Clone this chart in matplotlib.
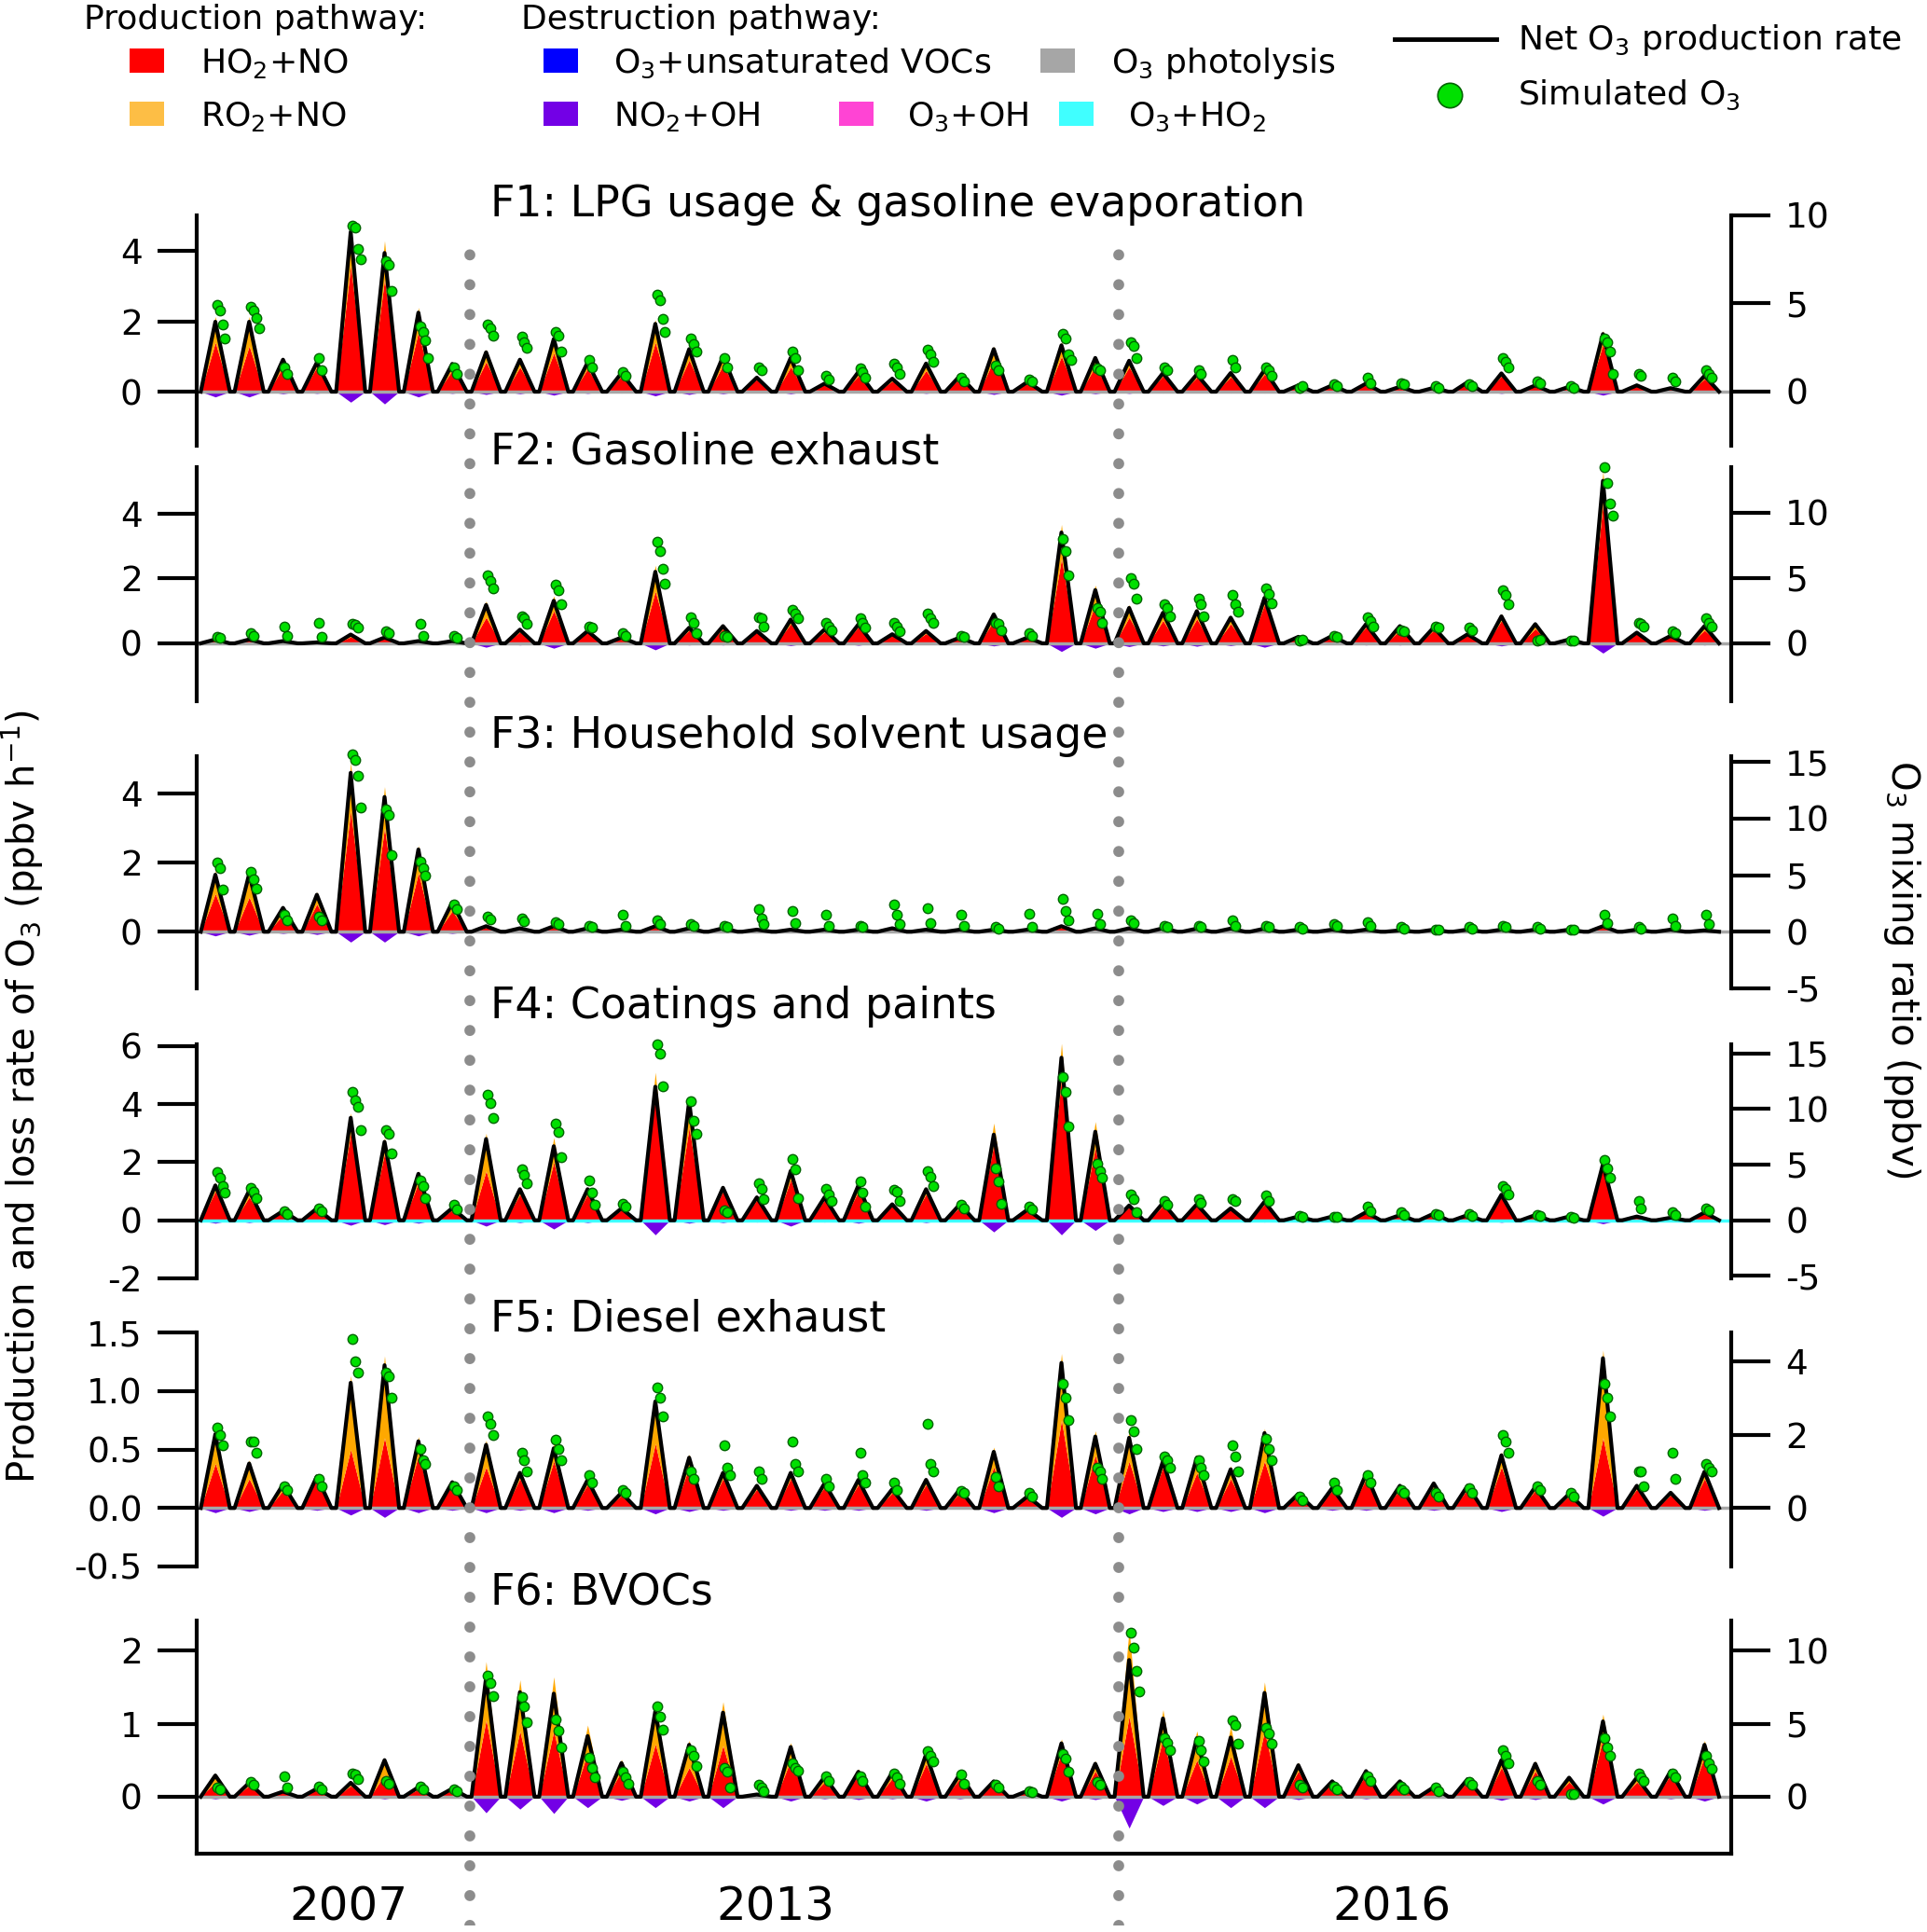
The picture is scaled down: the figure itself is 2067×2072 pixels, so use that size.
import numpy as np
import matplotlib.pyplot as plt
from matplotlib.patches import Rectangle
from matplotlib.lines import Line2D

plt.rcParams['font.family'] = 'DejaVu Sans'
plt.rcParams['mathtext.default'] = 'regular'
plt.rcParams['axes.unicode_minus'] = False

# sampled days: 0-7 -> 2007, 8-26 -> 2013, 27-44 -> 2016
days = np.arange(45)
period_breaks = [8.06, 27.23]
year_pos = [4.5, 17.1, 35.3]
year_labels = ['2007', '2013', '2016']

titles = ['F1: LPG usage & gasoline evaporation', 'F2: Gasoline exhaust',
          'F3: Household solvent usage', 'F4: Coatings and paints',
          'F5: Diesel exhaust', 'F6: BVOCs']

# daily peak rates (ppbv/h): total production, HO2+NO part, NO2+OH loss
prod_f1 = [2.14, 2.14, 0.97, 0.88, 4.85, 4.3, 2.4, 0.84, 1.2, 0.97, 1.6, 0.88, 0.57, 2.05, 1.29,
           1.06, 0.43, 1.02, 0.25, 0.6, 0.4, 0.85, 0.48, 1.29, 0.3, 1.42, 1.02, 0.93, 0.57, 0.52,
           0.57, 0.66, 0.2, 0.2, 0.25, 0.16, 0.12, 0.3, 0.57, 0.2, 0.16, 1.74, 0.2, 0.12, 0.48]
ho2_f1 = [1.4, 1.3, 0.7, 0.7, 3.6, 3.2, 1.7, 0.6, 0.85, 0.7, 1.1, 0.65, 0.45, 1.4, 0.9,
          0.75, 0.35, 0.7, 0.2, 0.45, 0.3, 0.6, 0.38, 0.9, 0.25, 1.0, 0.72, 0.7, 0.45, 0.4,
          0.42, 0.5, 0.17, 0.16, 0.2, 0.13, 0.1, 0.24, 0.45, 0.16, 0.13, 1.35, 0.16, 0.1, 0.36]
loss_f1 = [0.15, 0.15, 0.06, 0.05, 0.3, 0.35, 0.15, 0.05, 0.08, 0.06, 0.1, 0.05, 0.04, 0.12, 0.08,
           0.06, 0.03, 0.06, 0.02, 0.04, 0.03, 0.05, 0.03, 0.08, 0.02, 0.1, 0.06, 0.05, 0.04, 0.03,
           0.04, 0.04, 0.02, 0.02, 0.02, 0.02, 0.01, 0.03, 0.05, 0.02, 0.02, 0.1, 0.02, 0.02, 0.03]

prod_f2 = [0.14, 0.14, 0.09, 0.05, 0.3, 0.2, 0.09, 0.09, 1.3, 0.47, 1.46, 0.42, 0.2, 2.4, 0.53,
           0.58, 0.42, 0.8, 0.47, 0.64, 0.31, 0.42, 0.2, 0.97, 0.2, 3.66, 1.79, 1.19, 1.02, 1.08,
           0.86, 1.52, 0.22, 0.25, 0.64, 0.58, 0.53, 0.31, 0.91, 0.64, 0.14, 5.3, 0.36, 0.25, 0.58]
ho2_f2 = [0.1, 0.1, 0.07, 0.04, 0.2, 0.15, 0.07, 0.07, 0.8, 0.35, 1.0, 0.35, 0.15, 1.6, 0.4,
          0.45, 0.35, 0.6, 0.35, 0.5, 0.25, 0.3, 0.15, 0.7, 0.15, 2.6, 1.2, 0.8, 0.7, 0.75,
          0.6, 1.2, 0.17, 0.2, 0.5, 0.4, 0.4, 0.25, 0.7, 0.45, 0.1, 4.3, 0.3, 0.2, 0.4]
loss_f2 = [0.02, 0.02, 0.02, 0.02, 0.03, 0.02, 0.02, 0.02, 0.12, 0.05, 0.15, 0.04, 0.02, 0.2, 0.05,
           0.05, 0.04, 0.07, 0.04, 0.06, 0.03, 0.04, 0.02, 0.08, 0.02, 0.25, 0.15, 0.1, 0.08, 0.09,
           0.07, 0.12, 0.02, 0.02, 0.05, 0.05, 0.04, 0.03, 0.08, 0.05, 0.02, 0.3, 0.03, 0.02, 0.05]

prod_f3 = [1.77, 1.77, 0.74, 1.15, 4.9, 4.2, 2.5, 0.9, 0.18, 0.12, 0.18, 0.12, 0.07, 0.18, 0.12,
           0.12, 0.07, 0.07, 0.07, 0.07, 0.12, 0.07, 0.07, 0.07, 0.07, 0.18, 0.12, 0.12, 0.12, 0.1,
           0.1, 0.1, 0.07, 0.07, 0.07, 0.05, 0.07, 0.07, 0.07, 0.07, 0.07, 0.18, 0.07, 0.07, 0.05]
ho2_f3 = [1.1, 1.0, 0.5, 0.8, 3.5, 3.0, 1.7, 0.6, 0.12, 0.08, 0.12, 0.08, 0.05, 0.12, 0.08,
          0.08, 0.05, 0.05, 0.05, 0.05, 0.08, 0.05, 0.05, 0.05, 0.05, 0.12, 0.08, 0.08, 0.08, 0.07,
          0.07, 0.07, 0.05, 0.05, 0.05, 0.03, 0.05, 0.05, 0.05, 0.05, 0.05, 0.12, 0.05, 0.05, 0.03]
loss_f3 = [0.12, 0.1, 0.05, 0.08, 0.3, 0.3, 0.12, 0.05, 0.02, 0.02, 0.02, 0.02, 0.01, 0.02, 0.02,
           0.02, 0.01, 0.01, 0.01, 0.01, 0.02, 0.01, 0.01, 0.01, 0.01, 0.02, 0.02, 0.02, 0.02, 0.01,
           0.01, 0.01, 0.01, 0.01, 0.01, 0.01, 0.01, 0.01, 0.01, 0.01, 0.01, 0.02, 0.01, 0.01, 0.01]

prod_f4 = [1.3, 1.1, 0.35, 0.45, 3.7, 2.85, 1.7, 0.45, 3.0, 1.15, 2.85, 1.15, 0.45, 5.1, 4.2,
           1.2, 0.85, 1.9, 0.85, 1.3, 0.6, 1.15, 0.6, 3.35, 0.4, 6.1, 3.4, 0.55, 0.65, 0.6,
           0.45, 0.7, 0.15, 0.15, 0.3, 0.2, 0.25, 0.2, 0.95, 0.2, 0.15, 2.05, 0.15, 0.1, 0.3]
ho2_f4 = [1.0, 0.8, 0.3, 0.4, 3.0, 2.3, 1.3, 0.35, 1.7, 0.9, 2.0, 0.9, 0.35, 4.3, 3.2,
          1.0, 0.7, 1.4, 0.7, 1.0, 0.5, 0.9, 0.45, 2.6, 0.35, 4.9, 2.5, 0.45, 0.5, 0.5,
          0.4, 0.55, 0.12, 0.12, 0.25, 0.16, 0.2, 0.16, 0.8, 0.16, 0.12, 1.8, 0.12, 0.08, 0.25]
loss_f4 = [0.1, 0.08, 0.03, 0.04, 0.17, 0.15, 0.1, 0.03, 0.2, 0.08, 0.3, 0.08, 0.04, 0.5, 0.1,
           0.08, 0.06, 0.2, 0.06, 0.1, 0.05, 0.08, 0.05, 0.4, 0.03, 0.5, 0.35, 0.04, 0.05, 0.05,
           0.04, 0.06, 0.02, 0.02, 0.02, 0.02, 0.02, 0.02, 0.07, 0.02, 0.02, 0.12, 0.02, 0.01, 0.03]

prod_f5 = [0.67, 0.41, 0.21, 0.29, 1.13, 1.3, 0.61, 0.24, 0.58, 0.32, 0.55, 0.26, 0.14, 0.96, 0.46,
           0.32, 0.2, 0.32, 0.23, 0.26, 0.17, 0.26, 0.17, 0.52, 0.11, 1.32, 0.66, 0.65, 0.43, 0.46,
           0.36, 0.68, 0.13, 0.19, 0.31, 0.2, 0.23, 0.2, 0.48, 0.19, 0.13, 1.35, 0.2, 0.14, 0.33]
ho2_f5 = [0.38, 0.25, 0.15, 0.25, 0.5, 0.6, 0.45, 0.2, 0.35, 0.25, 0.4, 0.2, 0.11, 0.55, 0.35,
          0.25, 0.16, 0.25, 0.18, 0.2, 0.13, 0.2, 0.13, 0.35, 0.09, 0.75, 0.45, 0.4, 0.35, 0.3,
          0.25, 0.4, 0.1, 0.15, 0.25, 0.16, 0.18, 0.16, 0.35, 0.15, 0.1, 0.6, 0.16, 0.11, 0.25]
loss_f5 = [0.04, 0.03, 0.01, 0.02, 0.06, 0.08, 0.04, 0.02, 0.04, 0.02, 0.04, 0.02, 0.01, 0.05, 0.03,
           0.02, 0.01, 0.02, 0.02, 0.02, 0.01, 0.02, 0.01, 0.04, 0.01, 0.08, 0.05, 0.05, 0.03, 0.03,
           0.03, 0.04, 0.01, 0.02, 0.02, 0.01, 0.02, 0.01, 0.03, 0.01, 0.01, 0.07, 0.01, 0.01, 0.02]

prod_f6 = [0.32, 0.21, 0.09, 0.13, 0.21, 0.53, 0.15, 0.13, 1.85, 1.6, 1.64, 0.98, 0.51, 1.32, 0.77,
           1.3, 0.05, 0.74, 0.3, 0.38, 0.36, 0.64, 0.34, 0.23, 0.09, 0.79, 0.49, 2.3, 1.19, 0.9,
           0.96, 1.57, 0.47, 0.23, 0.38, 0.23, 0.15, 0.26, 0.55, 0.49, 0.28, 1.13, 0.28, 0.38, 0.77]
ho2_f6 = [0.2, 0.15, 0.06, 0.1, 0.15, 0.3, 0.1, 0.09, 1.05, 0.9, 0.9, 0.6, 0.35, 0.72, 0.4,
          0.7, 0.04, 0.5, 0.2, 0.3, 0.25, 0.45, 0.25, 0.18, 0.06, 0.6, 0.35, 1.1, 0.8, 0.5,
          0.55, 0.9, 0.35, 0.18, 0.3, 0.18, 0.12, 0.2, 0.4, 0.35, 0.2, 0.8, 0.2, 0.3, 0.55]
loss_f6 = [0.03, 0.02, 0.02, 0.02, 0.02, 0.03, 0.02, 0.02, 0.22, 0.17, 0.23, 0.15, 0.05, 0.15, 0.06,
           0.15, 0.02, 0.06, 0.03, 0.04, 0.03, 0.06, 0.03, 0.02, 0.01, 0.06, 0.04, 0.43, 0.12, 0.1,
           0.15, 0.15, 0.04, 0.02, 0.03, 0.02, 0.02, 0.02, 0.05, 0.04, 0.02, 0.1, 0.02, 0.03, 0.06]

# simulated O3 (ppbv), afternoon values of each day
o3_f1 = [[4.9, 4.6, 3.8, 3.0], [4.8, 4.6, 4.2, 3.6], [1.4, 1.0], [1.9, 1.2], [9.4, 9.3, 8.1, 7.5],
         [7.4, 7.2, 5.7], [3.7, 3.4, 2.9, 1.9], [1.4, 1.0], [3.8, 3.6, 3.2], [3.1, 2.8, 2.5],
         [3.4, 3.2, 2.3], [1.8, 1.4], [1.1, 0.9], [5.5, 5.2, 4.1, 3.4], [3.0, 2.7, 2.3],
         [1.9, 1.4], [1.4, 1.2], [2.3, 1.9, 1.2], [0.9, 0.7], [1.3, 1.1, 0.8], [1.6, 1.4, 1.0],
         [2.4, 2.1, 1.7], [0.8, 0.6], [1.5, 1.2], [0.7, 0.6], [3.3, 3.0, 2.1, 1.8], [1.3, 1.2],
         [2.8, 2.6, 1.9], [1.4, 1.2], [1.2, 1.0], [1.8, 1.4], [1.4, 1.2, 0.9], [0.2, 0.3],
         [0.4, 0.3], [0.8, 0.5], [0.5, 0.4], [0.3, 0.2], [0.4, 0.3], [1.9, 1.7, 1.4], [0.6, 0.5],
         [0.3, 0.2], [3.0, 2.8, 2.3, 1.0], [1.0, 0.9], [0.8, 0.6], [1.2, 1.0, 0.8]]
o3_f2 = [[0.5, 0.4], [0.75, 0.6], [1.3, 0.6], [1.6, 0.5], [1.5, 1.4, 1.2], [0.9, 0.8], [1.5, 0.6],
         [0.6, 0.4], [5.2, 4.8, 4.2], [2.1, 1.9, 1.5], [4.5, 4.1, 3.0], [1.3, 1.2], [0.8, 0.6],
         [7.8, 7.1, 5.7, 4.6], [2.0, 1.6, 0.8], [0.6, 0.5], [2.0, 1.9, 1.3], [2.6, 2.3, 1.9],
         [1.6, 1.3, 1.0], [1.9, 1.6, 1.2], [1.6, 1.3, 0.9], [2.3, 1.9, 1.6], [0.6, 0.5],
         [1.6, 1.5, 1.0], [0.8, 0.6], [8.0, 7.1, 5.2], [2.7, 2.4, 1.6], [5.0, 4.6, 3.4],
         [3.0, 2.7, 2.1], [3.4, 3.0, 2.1], [3.7, 3.0, 2.4], [4.2, 3.8, 3.1], [0.2, 0.3], [0.6, 0.5],
         [2.0, 1.7, 1.3], [1.0, 0.9], [1.3, 1.2], [1.2, 1.0], [4.1, 3.7, 3.0], [0.2, 0.3], [0.2, 0.2],
         [13.5, 12.3, 10.7, 9.8], [1.6, 1.5, 1.3], [0.9, 0.8], [1.9, 1.6, 1.3]]
o3_f3 = [[6.1, 5.6, 3.7], [5.3, 4.6, 3.8], [1.5, 1.0], [1.3, 1.0], [15.7, 15.2, 13.8, 11.0],
         [10.8, 10.3, 6.8], [6.2, 5.6, 5.0], [2.4, 2.0], [1.3, 1.1], [1.2, 0.9], [0.85, 0.7],
         [0.5, 0.4], [1.5, 0.5], [1.0, 0.7], [0.7, 0.5], [0.5, 0.4], [2.0, 1.2, 0.7], [1.8, 0.8],
         [1.5, 0.5], [0.5, 0.4], [2.4, 1.5, 0.7], [2.1, 0.8], [1.5, 0.5], [0.4, 0.3], [1.6, 0.4],
         [2.9, 1.8, 1.0], [1.6, 0.7], [1.0, 0.8], [0.5, 0.4], [0.5, 0.4], [1.0, 0.5], [0.5, 0.4],
         [0.4, 0.3], [0.7, 0.5], [0.85, 0.5], [0.4, 0.3], [0.2, 0.2], [0.4, 0.3], [0.5, 0.4],
         [0.4, 0.3], [0.2, 0.2], [1.5, 0.8], [0.4, 0.3], [1.2, 0.5], [1.5, 0.7]]
o3_f4 = [[4.3, 3.8, 3.1, 2.5], [2.9, 2.6, 2.0], [0.8, 0.6], [1.1, 0.8], [11.5, 10.8, 10.2, 8.1],
         [8.1, 7.8, 6.0], [3.6, 3.1, 2.0], [1.4, 1.0], [11.3, 10.5, 9.2], [4.6, 4.1, 3.3],
         [8.7, 7.9, 5.7], [3.6, 2.5, 1.4], [1.5, 1.2], [15.8, 15.0, 12.0], [10.7, 8.9, 7.8],
         [0.9, 0.7], [3.3, 2.8, 1.9], [5.5, 4.6, 2.0], [2.8, 2.3, 1.7], [3.5, 2.5, 1.2],
         [2.7, 2.6, 1.7], [4.4, 3.9, 3.1], [1.4, 1.1], [4.7, 3.5, 1.5], [1.2, 1.0],
         [12.9, 11.5, 8.4], [5.1, 4.4, 3.8], [2.3, 1.9, 0.7], [1.7, 1.4], [1.9, 1.6], [1.9, 1.7],
         [2.2, 1.7], [0.4, 0.3], [0.3, 0.3], [1.2, 0.8], [0.7, 0.5], [0.6, 0.5], [0.6, 0.4],
         [3.1, 2.8, 2.3], [0.5, 0.4], [0.3, 0.2], [5.4, 4.7, 3.8], [1.7, 1.1], [0.7, 0.5], [1.1, 0.9]]
o3_f5 = [[2.2, 2.0, 1.7], [1.8, 1.8, 1.5], [0.6, 0.5], [0.8, 0.6], [4.6, 4.0, 3.7], [3.7, 3.6, 3.0],
         [1.6, 1.3, 1.2], [0.6, 0.5], [2.5, 2.3, 2.0], [1.5, 1.3, 1.0], [1.85, 1.6, 1.3], [0.9, 0.7],
         [0.5, 0.4], [3.3, 3.0, 2.5], [1.0, 0.8], [1.7, 1.1, 0.9], [1.0, 0.8], [1.8, 1.2, 1.0],
         [0.8, 0.6], [1.5, 0.9, 0.7], [0.7, 0.5], [2.3, 1.2, 1.0], [0.45, 0.4], [0.85, 0.6],
         [0.4, 0.3], [3.4, 3.0, 2.4], [1.1, 1.0, 0.8], [2.4, 2.1, 1.6], [1.4, 1.3, 1.1],
         [1.3, 1.1, 0.9], [1.7, 1.4, 1.0], [1.9, 1.6, 1.3], [0.3, 0.2], [0.7, 0.5], [0.9, 0.7],
         [0.5, 0.4], [0.4, 0.3], [0.55, 0.4], [2.0, 1.8, 1.5], [0.6, 0.5], [0.4, 0.3],
         [3.4, 3.0, 2.5], [1.0, 1.0, 0.6], [1.5, 0.8], [1.2, 1.1, 1.0]]
o3_f6 = [[0.6, 0.5], [1.0, 0.8], [1.4, 0.6], [0.7, 0.5], [1.6, 1.5, 1.2], [1.1, 0.9], [0.7, 0.5],
         [0.5, 0.4], [8.3, 7.8, 6.9], [6.8, 6.2, 5.1], [5.3, 4.5, 3.4], [2.7, 2.0, 1.3],
         [1.7, 1.3, 0.9], [6.2, 5.5, 4.6], [3.2, 2.8, 2.1], [2.0, 1.7, 0.6], [0.85, 0.6, 0.4],
         [2.3, 2.0, 1.8], [1.4, 1.1], [1.4, 1.1], [1.6, 1.3, 0.9], [3.1, 2.8, 2.4], [1.5, 0.9],
         [0.85, 0.6], [0.4, 0.3], [2.9, 2.6, 1.7], [1.0, 0.8], [11.2, 10.2, 8.6, 7.2],
         [4.0, 3.7, 3.2], [3.8, 3.2, 2.4], [5.2, 4.9, 3.6], [4.7, 4.3, 3.6], [0.85, 0.6],
         [0.7, 0.5], [1.4, 1.1], [0.7, 0.5], [0.6, 0.4], [1.0, 0.8], [3.2, 2.8, 2.3], [1.1, 0.8],
         [0.2, 0.2], [4.0, 3.4, 2.8], [1.6, 1.3, 1.1], [1.6, 1.3], [2.8, 2.3, 1.9]]

# time of day (fraction) for sunrise / noon / sunset and the O3 afternoon samples
hump = [0.12, 0.55, 0.98]
o3_offsets = [0.6, 0.68, 0.76, 0.84]

panels = [
    (prod_f1, ho2_f1, loss_f1, o3_f1),
    (prod_f2, ho2_f2, loss_f2, o3_f2),
    (prod_f3, ho2_f3, loss_f3, o3_f3),
    (prod_f4, ho2_f4, loss_f4, o3_f4),
    (prod_f5, ho2_f5, loss_f5, o3_f5),
    (prod_f6, ho2_f6, loss_f6, o3_f6),
]

# layout (pixel rows of each panel box in the 2067 x 2072 canvas)
W, H = 2067, 2072
panel_rows = [(231, 478), (501, 752), (811, 1060), (1120, 1371), (1429, 1680), (1738, 1988)]
left_lim = [(-1.54, 5.02), (-1.78, 5.42), (-1.64, 5.08), (-2.0, 6.06), (-0.5, 1.5), (-0.78, 2.41)]
right_lim = [(-3.07, 10.0), (-4.43, 13.5), (-5.0, 15.5), (-5.22, 15.8), (-1.6, 4.79), (-3.9, 12.05)]
left_ticks = [[0, 2, 4], [0, 2, 4], [0, 2, 4], [-2, 0, 2, 4, 6], [-0.5, 0.0, 0.5, 1.0, 1.5], [0, 1, 2]]
right_ticks = [[0, 5, 10], [0, 5, 10], [-5, 0, 5, 10, 15], [-5, 0, 5, 10, 15], [0, 2, 4], [0, 5, 10]]
title_y = [219, 485, 790, 1080, 1415, 1709]

c_ho2 = '#FF0000'
c_ro2 = '#FFA800'
c_no2oh = '#7300E6'
c_phot = '#A6A6A6'
c_o3ho2 = '#40FFFF'
c_green = '#00E000'


def day_series(vals):
    x, y = [], []
    for d, v in zip(days, vals):
        x += [d + hump[0], d + hump[1], d + hump[2]]
        y += [0.0, v, 0.0]
    return np.array(x), np.array(y)


def o3_points(daily):
    x, y = [], []
    for d, vals in zip(days, daily):
        for off, v in zip(o3_offsets, vals):
            x.append(d + off)
            y.append(v)
    return x, y


fig = plt.figure(figsize=(W / 100, H / 100), dpi=100)
x0, x1 = 211 / W, 1857 / W

for i, (prod, ho2, loss, o3) in enumerate(panels):
    top, bot = panel_rows[i]
    ax = fig.add_axes([x0, 1 - bot / H, x1 - x0, (bot - top) / H])
    xs, p = day_series(prod)
    _, h = day_series(ho2)
    _, l = day_series(loss)

    ax.fill_between(xs, 0, h, color=c_ho2, lw=0, zorder=2)
    ax.fill_between(xs, h, p, color=c_ro2, lw=0, zorder=2)
    ax.fill_between(xs, 0, -l, color=c_no2oh, lw=0, zorder=2)
    ax.axhline(0, color=c_o3ho2 if i == 3 else c_phot, lw=2.5, zorder=2.5)
    ax.plot(xs, p - l, color='black', lw=3, zorder=3)

    ax.set_xlim(0, 45.34)
    ax.set_ylim(*left_lim[i])
    ax.set_yticks(left_ticks[i])
    if i == 4:
        ax.set_yticklabels(['%.1f' % t for t in left_ticks[i]])
    ax.tick_params(axis='y', direction='out', length=30, width=3, pad=12, labelsize=27)
    for s in ['top', 'right']:
        ax.spines[s].set_visible(False)
    ax.spines['left'].set_linewidth(3)
    if i == 5:
        ax.spines['bottom'].set_linewidth(3)
        ax.set_xticks(year_pos, year_labels)
        ax.tick_params(axis='x', length=0, pad=24, labelsize=36)
    else:
        ax.spines['bottom'].set_visible(False)
        ax.set_xticks([])

    ax2 = ax.twinx()
    ox, oy = o3_points(o3)
    ax2.plot(ox, oy, 'o', ms=7.5, mfc=c_green, mec='#006400', mew=1.0, clip_on=False, zorder=4)
    ax2.set_ylim(*right_lim[i])
    ax2.set_yticks(right_ticks[i])
    ax2.tick_params(axis='y', direction='out', length=30, width=3, pad=12, labelsize=27)
    for s in ['top', 'left', 'bottom']:
        ax2.spines[s].set_visible(False)
    ax2.spines['right'].set_linewidth(3)

    fig.text(526 / W, 1 - title_y[i] / H, titles[i], fontsize=33, va='center', ha='left')

# dotted separators between the campaigns
ov = fig.add_axes([x0, 1 - 2065 / H, x1 - x0, (2065 - 265) / H])
ov.set_xlim(0, 45.34)
ov.set_ylim(0, 1)
ov.axis('off')
for b in period_breaks:
    ov.axvline(b, color='#8C8C8C', lw=8.5, linestyle=(0, (0.01, 2.7)), dash_capstyle='round')

# axis titles
fig.text(24 / W, 1 - 1176 / H, 'Production and loss rate of O$_3$ (ppbv h$^{-1}$)',
         rotation=90, fontsize=29, ha='center', va='center')
fig.text(2040 / W, 1 - 1040 / H, 'O$_3$ mixing ratio (ppbv)',
         rotation=-90, fontsize=29, ha='center', va='center')

# legend drawn by hand
fig.text(90 / W, 1 - 31 / H, 'Production pathway:', fontsize=26, va='baseline')
fig.text(559 / W, 1 - 31 / H, 'Destruction pathway:', fontsize=26, va='baseline')
legend_items = [
    ('#FF0000', 'HO$_2$+NO', 139, 78, 215),
    ('#FDBE45', 'RO$_2$+NO', 139, 135, 215),
    ('#0000FF', 'O$_3$+unsaturated VOCs', 583, 78, 658),
    ('#A6A6A6', 'O$_3$ photolysis', 1116, 78, 1192),
    ('#7300E6', 'NO$_2$+OH', 583, 135, 658),
    ('#FF44D4', 'O$_3$+OH', 900, 135, 973),
    ('#40FFFF', 'O$_3$+HO$_2$', 1136, 135, 1210),
]
for color, label, px, pb, tx in legend_items:
    fig.add_artist(Rectangle((px / W, 1 - pb / H), 37 / W, 26 / H,
                             transform=fig.transFigure, facecolor=color, lw=0))
    fig.text(tx / W, 1 - pb / H, label, fontsize=26, va='baseline')

fig.add_artist(Line2D([1496 / W, 1605 / W], [1 - 42 / H, 1 - 42 / H], color='black', lw=3.5,
                      transform=fig.transFigure))
fig.text(1628 / W, 1 - 53 / H, 'Net O$_3$ production rate', fontsize=26, va='baseline')
fig.add_artist(Line2D([1555 / W], [1 - 102 / H], marker='o', ms=19, mfc=c_green, mec='#006400',
                      mew=1.2, transform=fig.transFigure))
fig.text(1628 / W, 1 - 112 / H, 'Simulated O$_3$', fontsize=26, va='baseline')

fig.savefig('out.png', dpi=100)
